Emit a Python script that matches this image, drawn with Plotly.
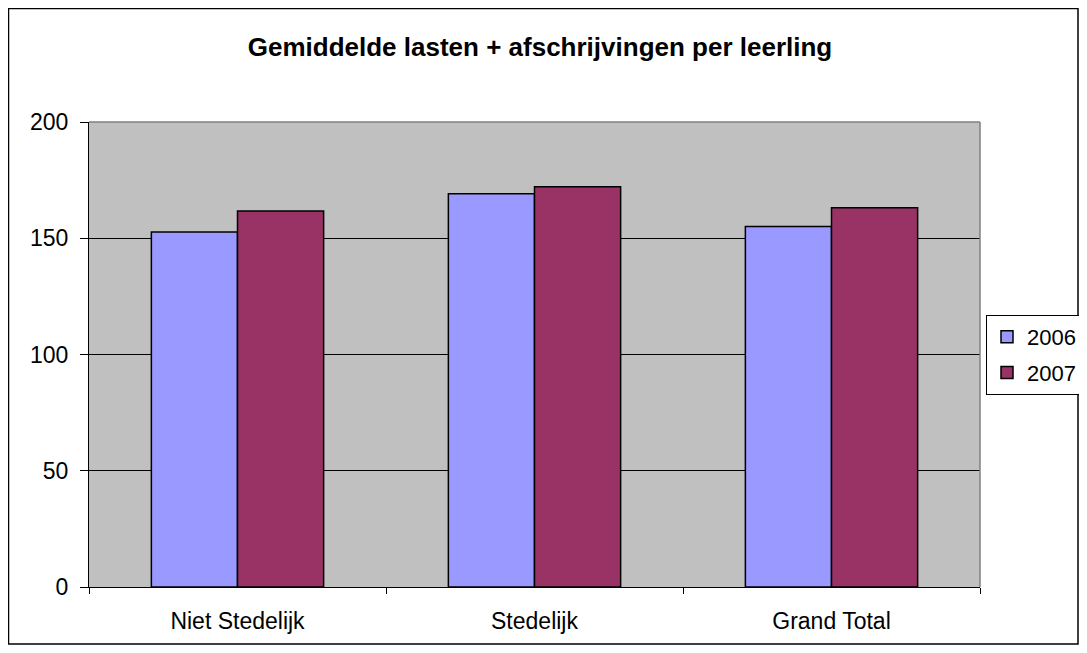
import plotly.graph_objects as go

categories = ["Niet Stedelijk", "Stedelijk", "Grand Total"]
values_2006 = [152.7, 169.1, 155.1]
values_2007 = [161.7, 172.1, 163.1]
series_names = ["2006", "2007"]
y_ticks = [0, 50, 100, 150, 200]

# page body adds an 8px margin, so figure coordinates are reference minus 8
OFF = 8
W, H = 1087 - OFF, 653 - 2 * OFF
L, R, T, B = 89 - OFF, 980 - OFF, 122 - OFF, 587 - OFF

fig = go.Figure()
fig.add_trace(go.Bar(x=categories, y=values_2006, name=series_names[0], legendgroup="a",
                     marker=dict(color="#9999FF", line=dict(color="black", width=1.5))))
fig.add_trace(go.Bar(x=categories, y=values_2007, name=series_names[1], legendgroup="b",
                     marker=dict(color="#993366", line=dict(color="black", width=1.5))))

pw, ph = R - L, B - T
def px(x): return (x - OFF - L) / pw
def py(y): return (B - (y - OFF)) / ph

fig.update_layout(
    width=W, height=H,
    margin=dict(l=L, r=W - R, t=T, b=H - B, pad=0, autoexpand=False),
    paper_bgcolor="white", plot_bgcolor="#C0C0C0",
    barmode="group", bargap=0.42, bargroupgap=0,
    font=dict(family="Arial, Liberation Sans", size=23, color="black"),
    title=dict(text="<b>Gemiddelde lasten + afschrijvingen per leerling</b>",
               x=px(540), xref="paper", xanchor="center", y=1 - 39 / H, yanchor="middle",
               font=dict(size=26)),
    xaxis=dict(showline=True, linecolor="black", linewidth=1, ticks="outside",
               tickson="boundaries", ticklen=6, tickcolor="black", showgrid=False,
               mirror=False, automargin=False, ticklabelstandoff=13),
    yaxis=dict(range=[0, 200], tickvals=y_ticks, showline=True, linecolor="black",
               linewidth=1, ticks="outside", ticklen=8, tickcolor="black",
               showgrid=True, gridcolor="black", gridwidth=1, zeroline=False,
               automargin=False, ticklabelstandoff=7),
    legend=dict(x=px(986), y=py(355), xanchor="left", yanchor="middle",
                bordercolor="black", borderwidth=1, bgcolor="white",
                font=dict(size=22), itemwidth=30, tracegroupgap=4),
    shapes=[
        dict(type="rect", xref="paper", yref="paper", x0=px(8.5), x1=px(1078),
             y0=py(644), y1=py(8.5), line=dict(color="black", width=1.5), layer="below"),
        dict(type="line", xref="paper", yref="paper", x0=1, x1=1, y0=0, y1=1,
             line=dict(color="#808080", width=1.5)),
        dict(type="line", xref="paper", yref="paper", x0=0, x1=1, y0=1, y1=1,
             line=dict(color="#808080", width=1.5)),
    ],
)
fig.write_html("out.html")
